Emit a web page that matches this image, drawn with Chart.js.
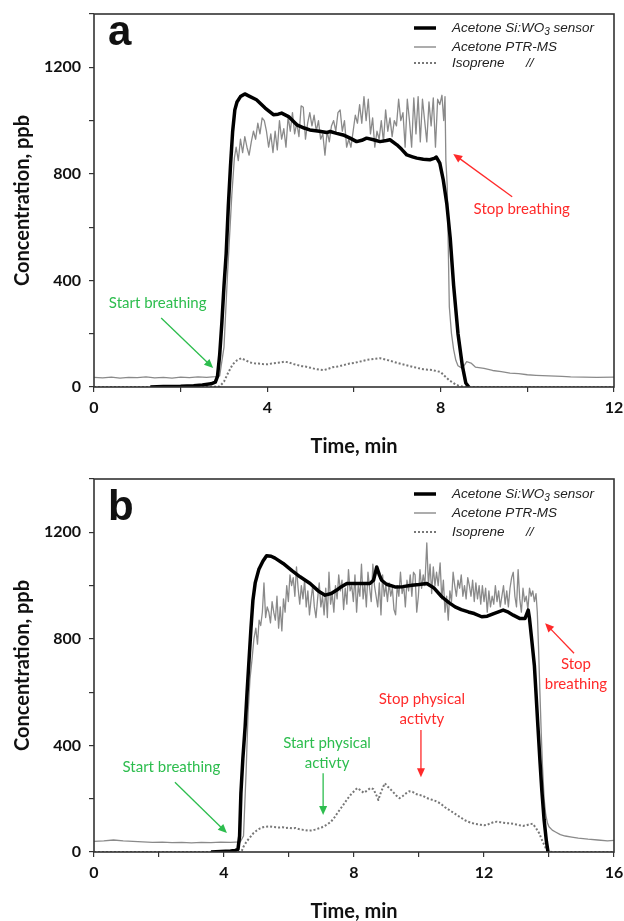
<!DOCTYPE html>
<html>
<head>
<meta charset="utf-8">
<script src="https://cdn.jsdelivr.net/npm/chart.js@4.4.1/dist/chart.umd.min.js"></script>
<style>
  html, body { margin: 0; padding: 0; background: #fff; overflow: hidden; }
  .panel { position: relative; width: 624px; }
  canvas { display: block; }
</style>
</head>
<body>
<div class="panel" style="height:460px"><canvas id="chartA" width="624" height="460"></canvas></div>
<div class="panel" style="height:461px"><canvas id="chartB" width="624" height="470"></canvas></div>
<script>
// ---- panel a: times (min) and concentrations (ppb) ----
const sensorA_t = [1.3, 1.6, 2.0, 2.3, 2.5, 2.7, 2.8, 2.85, 2.9, 2.95, 3.0, 3.05, 3.1, 3.15, 3.2, 3.25, 3.3, 3.38, 3.48,
  3.58, 3.75, 3.95, 4.14, 4.25, 4.33, 4.49, 4.68, 4.85, 4.98, 5.2, 5.37, 5.45, 5.6, 5.75, 5.91, 6.06, 6.18, 6.29, 6.45,
  6.6, 6.75, 6.83, 6.99, 7.1, 7.22, 7.35, 7.45, 7.6, 7.75, 7.85, 7.9, 7.98, 8.06, 8.14, 8.22, 8.3, 8.4, 8.5, 8.58, 8.65];
const sensorA_v = [0, 2, 3, 5, 8, 12, 18, 40, 120, 240, 380, 500, 680, 830, 960, 1040, 1070, 1090, 1100,
  1092, 1078, 1047, 1022, 1024, 1028, 1015, 984, 972, 965, 960, 955, 959, 952, 946, 934, 921, 926, 934, 928,
  921, 925, 928, 909, 892, 871, 864, 859, 855, 853, 858, 863, 840, 777, 690, 560, 380, 200, 80, 15, 0];

const ptrA_t = [0.0, 0.2, 0.4, 0.6, 0.8, 1.0, 1.2, 1.4, 1.6, 1.8, 2.0, 2.2, 2.4, 2.6, 2.8, 2.9, 3.0, 3.08, 3.14, 3.18,
  3.24, 3.28, 3.33, 3.38, 3.43, 3.48, 3.53, 3.58, 3.63, 3.68, 3.73, 3.78, 3.83, 3.88, 3.93, 3.98, 4.03, 4.08, 4.13, 4.18,
  4.23, 4.28, 4.33, 4.38, 4.43, 4.48, 4.53, 4.58, 4.63, 4.68, 4.73, 4.78, 4.83, 4.88, 4.93, 4.98, 5.03, 5.08, 5.13, 5.18,
  5.23, 5.28, 5.33, 5.38, 5.43, 5.48, 5.53, 5.58, 5.63, 5.68, 5.73, 5.78, 5.83, 5.88, 5.93, 5.98, 6.03, 6.08, 6.13, 6.18,
  6.23, 6.28, 6.33, 6.38, 6.43, 6.48, 6.53, 6.58, 6.63, 6.68, 6.73, 6.78, 6.83, 6.88, 6.93, 6.98, 7.03, 7.08, 7.13, 7.18,
  7.23, 7.28, 7.33, 7.38, 7.43, 7.48, 7.53, 7.58, 7.63, 7.68, 7.73, 7.78, 7.83, 7.88, 7.93, 7.98, 8.03, 8.07, 8.1, 8.12,
  8.15, 8.2, 8.25, 8.3, 8.35, 8.4, 8.5, 8.6, 8.7, 8.8, 9.0, 9.2, 9.4, 9.6, 9.8, 10.0, 10.2, 10.5, 10.8, 11.0,
  11.3, 11.6, 12.0];
const ptrA_v = [36, 34, 37, 33, 36, 35, 38, 34, 36, 33, 37, 35, 38, 36, 39, 42, 150, 420, 600, 720,
  860, 900, 850, 930, 880, 940, 900, 870, 920, 960, 930, 990, 950, 1010, 1000, 960, 900, 950, 880, 960,
  890, 1000, 930, 970, 900, 1015, 960, 1030, 950, 990, 940, 1055, 1050, 930, 990, 1030, 980, 1020, 960, 1000,
  930, 950, 870, 960, 920, 980, 1000, 960, 1030, 1040, 960, 1000, 900, 930, 900, 960, 1020, 990, 1060, 990,
  1090, 1000, 1080, 950, 1010, 900, 960, 930, 1000, 920, 1040, 960, 1010, 940, 1000, 980, 1080, 1000, 1030, 900,
  1080, 1000, 900, 1085, 950, 1090, 920, 1080, 1000, 920, 1070, 980, 1085, 900, 1080, 1060, 1095, 1000, 1090, 850,
  760, 300, 200, 140, 100, 80, 70, 95, 90, 75, 70, 62, 58, 52, 50, 46, 44, 42, 40, 38,
  37, 36, 37];

const isoA_t = [0, 1, 2, 2.5, 2.9, 3.0, 3.1, 3.2, 3.3, 3.4, 3.5, 3.6, 3.7, 3.8, 3.9, 4.0, 4.1, 4.2, 4.3, 4.4,
  4.5, 4.6, 4.7, 4.8, 4.9, 5.0, 5.1, 5.2, 5.3, 5.4, 5.5, 5.6, 5.7, 5.8, 5.9, 6.0, 6.1, 6.2, 6.3, 6.4,
  6.5, 6.6, 6.7, 6.8, 6.9, 7.0, 7.1, 7.2, 7.3, 7.4, 7.5, 7.6, 7.7, 7.8, 7.9, 8.0, 8.1, 8.2, 8.3, 8.4,
  8.5, 8.6, 9, 10, 11, 12];
const isoA_v = [0, 0, 0, 0, 2, 20, 55, 85, 100, 108, 100, 92, 89, 88, 86, 85, 88, 90, 92, 95,
  92, 86, 82, 78, 76, 72, 68, 65, 63, 68, 74, 76, 80, 84, 88, 90, 94, 98, 102, 104,
  106, 108, 104, 100, 95, 90, 86, 82, 78, 74, 70, 67, 65, 64, 60, 56, 40, 25, 14, 6,
  2, 0, 0, 0, 0, 0];

// ---- panel b ----
const sensorB_t = [3.6, 3.9, 4.2, 4.35, 4.43, 4.48, 4.52, 4.58, 4.65, 4.71, 4.77, 4.83, 4.89, 4.96, 5.07, 5.2, 5.31, 5.45,
  5.57, 5.82, 6.1, 6.34, 6.65, 6.9, 7.11, 7.3, 7.47, 7.6, 7.78, 8.13, 8.49, 8.6, 8.7, 8.78, 8.85, 9.0, 9.26, 9.5,
  9.78, 10.0, 10.24, 10.45, 10.7, 10.9, 11.11, 11.3, 11.52, 11.7, 11.93, 12.1, 12.3, 12.59, 12.75, 12.9, 13.11, 13.26,
  13.36, 13.4, 13.47, 13.55, 13.6, 13.66, 13.72, 13.78, 13.85, 13.92, 13.97];
const sensorB_v = [0, 2, 4, 6, 10, 60, 220, 350, 470, 600, 720, 840, 945, 1010, 1060, 1092, 1112, 1110,
  1103, 1083, 1055, 1033, 1008, 980, 964, 970, 983, 995, 1008, 1008, 1008, 1020, 1070, 1040, 1020, 1005, 995, 996,
  1001, 1004, 1008, 992, 958, 938, 920, 910, 901, 895, 883, 885, 895, 908, 900, 889, 876, 876,
  908, 876, 795, 700, 596, 470, 345, 230, 120, 40, 0];

const ptrB_t = [0, 0.3, 0.6, 0.9, 1.2, 1.5, 1.8, 2.1, 2.4, 2.7, 3.0, 3.3, 3.6, 3.9, 4.2, 4.5, 4.6, 4.68, 4.74, 4.8,
  4.86, 4.92, 4.98, 5.03, 5.08, 5.13, 5.18, 5.23, 5.28, 5.33, 5.38, 5.43, 5.48, 5.53, 5.58, 5.63, 5.68, 5.73, 5.78, 5.83,
  5.88, 5.93, 5.98, 6.03, 6.08, 6.13, 6.18, 6.23, 6.28, 6.33, 6.38, 6.43, 6.48, 6.53, 6.58, 6.63, 6.68, 6.73, 6.78, 6.83,
  6.88, 6.93, 6.98, 7.03, 7.08, 7.13, 7.18, 7.23, 7.28, 7.33, 7.38, 7.43, 7.48, 7.53, 7.58, 7.63, 7.68, 7.73, 7.78, 7.83,
  7.88, 7.93, 7.98, 8.03, 8.08, 8.13, 8.18, 8.23, 8.28, 8.33, 8.38, 8.43, 8.48, 8.53, 8.58, 8.63, 8.68, 8.73, 8.78, 8.83,
  8.88, 8.93, 8.98, 9.03, 9.08, 9.13, 9.18, 9.23, 9.28, 9.33, 9.38, 9.43, 9.48, 9.53, 9.58, 9.63, 9.68, 9.73, 9.78, 9.83,
  9.88, 9.93, 9.98, 10.03, 10.08, 10.13, 10.18, 10.24, 10.29, 10.34, 10.39, 10.44, 10.49, 10.54, 10.59, 10.65, 10.7, 10.75, 10.8, 10.85,
  10.9, 10.95, 11.0, 11.05, 11.1, 11.15, 11.2, 11.25, 11.3, 11.35, 11.4, 11.45, 11.5, 11.55, 11.6, 11.65, 11.7, 11.75, 11.8, 11.85,
  11.9, 11.95, 12.0, 12.05, 12.1, 12.15, 12.2, 12.25, 12.3, 12.35, 12.4, 12.45, 12.5, 12.55, 12.6, 12.65, 12.7, 12.75, 12.8, 12.85,
  12.9, 12.95, 13.0, 13.05, 13.1, 13.15, 13.2, 13.25, 13.3, 13.35, 13.4, 13.45, 13.5, 13.55, 13.6, 13.64, 13.68, 13.72, 13.76, 13.8,
  13.85, 13.9, 13.95, 14.0, 14.1, 14.2, 14.35, 14.5, 14.7, 14.9, 15.2, 15.5, 15.8, 16.0];
const ptrB_v = [40, 42, 45, 42, 40, 38, 36, 37, 35, 36, 34, 36, 35, 37, 36, 38, 60, 300, 520, 650,
  720, 800, 840, 780, 870, 850, 900, 1010, 880, 920, 900, 860, 940, 900, 870, 960, 840, 920, 830, 950,
  900, 1000, 940, 1040, 1000, 1030, 960, 1070, 990, 930, 1000, 950, 1020, 920, 980, 890, 950, 1000, 920, 880,
  950, 1010, 920, 960, 890, 990, 880, 1050, 930, 970, 900, 1000, 950, 1040, 980, 1020, 910, 990, 930, 1060,
  980, 1000, 940, 1040, 900, 1000, 960, 1080, 950, 1010, 920, 1050, 990, 940, 1080, 1000, 960, 920, 1010, 890,
  1040, 960, 1000, 940, 1010, 960, 990, 910, 890, 1000, 960, 1050, 970, 1000, 920, 1020, 980, 1040, 960, 1050,
  1040, 900, 960, 1060, 990, 1040, 1000, 1160, 1000, 1080, 970, 1070, 1000, 1050, 1000, 1085, 950, 1020, 900, 960,
  870, 980, 940, 1050, 1000, 960, 1020, 990, 1040, 960, 1000, 950, 1030, 1000, 960, 1020, 940, 1010, 950, 1000,
  930, 1000, 940, 990, 900, 980, 920, 960, 930, 1000, 940, 980, 920, 960, 1000, 930, 980, 920, 990, 1030,
  1050, 960, 920, 1060, 950, 900, 990, 940, 960, 910, 990, 960, 980, 940, 970, 900, 760, 600, 450, 320,
  200, 140, 110, 95, 82, 75, 65, 60, 56, 52, 48, 45, 42, 44];

const isoB_t = [0, 1, 2, 3, 4, 4.5, 4.55, 4.6, 4.7, 4.8, 4.9, 5.0, 5.1, 5.2, 5.3, 5.4, 5.5, 5.6, 5.7, 5.8,
  5.9, 6.0, 6.1, 6.2, 6.3, 6.4, 6.5, 6.6, 6.7, 6.8, 6.9, 7.0, 7.1, 7.2, 7.3, 7.4, 7.5, 7.6, 7.7, 7.8,
  7.9, 8.0, 8.1, 8.2, 8.3, 8.4, 8.5, 8.6, 8.7, 8.75, 8.8, 8.9, 8.95, 9.0, 9.1, 9.2, 9.3, 9.4, 9.5, 9.6,
  9.7, 9.8, 9.9, 10.0, 10.1, 10.2, 10.3, 10.4, 10.5, 10.6, 10.7, 10.8, 10.9, 11.0, 11.1, 11.2, 11.3, 11.4, 11.5, 11.6,
  11.7, 11.8, 11.9, 12.0, 12.1, 12.2, 12.3, 12.4, 12.5, 12.6, 12.7, 12.8, 12.9, 13.0, 13.1, 13.2, 13.3, 13.4, 13.5, 13.6,
  13.7, 13.8, 13.9, 14.0, 14.1, 15, 16];
const isoB_v = [0, 0, 0, 0, 0, 0, 5, 20, 40, 55, 70, 80, 88, 93, 95, 96, 94, 93, 92, 93,
  90, 91, 89, 90, 86, 84, 82, 80, 81, 84, 88, 92, 98, 105, 115, 130, 148, 165, 182, 200,
  215, 228, 240, 232, 222, 230, 240, 236, 210, 195, 215, 245, 258, 250, 238, 226, 212, 202, 210, 220,
  228, 226, 218, 214, 212, 205, 200, 196, 192, 186, 178, 168, 160, 152, 144, 136, 128, 120, 114, 110,
  106, 104, 102, 100, 102, 108, 112, 114, 112, 110, 108, 108, 106, 103, 100, 98, 100, 104, 106, 90,
  70, 40, 15, 2, 0, 0, 0];

const seriesNames = ['Acetone Si:WO', 'Acetone PTR-MS', 'Isoprene'];
const yTicks = [0, 400, 800, 1200];

const GREEN = '#2dbd4e';
const RED = '#ff2a2a';
const labelFont = '15px Lato, "Open Sans", sans-serif';

function pts(t, v) { return t.map((x, i) => ({ x: x, y: v[i] })); }

// frame, legend, panel letter, annotations
const decorPlugin = {
  id: 'decor',
  afterDraw(chart, args, o) {
    const { ctx, chartArea: ca, scales: { x, y } } = chart;
    ctx.save();
    ctx.strokeStyle = '#333';
    ctx.lineWidth = 1.6;
    ctx.strokeRect(ca.left, ca.top, ca.right - ca.left, ca.bottom - ca.top);

    // panel letter
    ctx.fillStyle = '#111';
    ctx.font = 'bold 42px "Liberation Sans", Arial, sans-serif';
    ctx.textBaseline = 'alphabetic';
    ctx.textAlign = 'left';
    ctx.fillText(o.letter, ca.left + 14, ca.top + o.letterBase);

    // legend
    const lx0 = 414, lx1 = 436, tx = 452;
    const rows = o.legendRows;
    ctx.font = 'italic 13.5px "Liberation Sans", Arial, sans-serif';
    ctx.textBaseline = 'middle';
    ctx.fillStyle = '#222';
    // sensor
    ctx.strokeStyle = '#000'; ctx.lineWidth = 3.5; ctx.setLineDash([]);
    ctx.beginPath(); ctx.moveTo(lx0, rows[0]); ctx.lineTo(lx1, rows[0]); ctx.stroke();
    ctx.fillText(seriesNames[0], tx, rows[0]);
    let w = ctx.measureText(seriesNames[0]).width;
    ctx.font = 'italic 10px "Liberation Sans", Arial, sans-serif';
    ctx.fillText('3', tx + w, rows[0] + 4);
    let w3 = ctx.measureText('3').width;
    ctx.font = 'italic 13.5px "Liberation Sans", Arial, sans-serif';
    ctx.fillText(' sensor', tx + w + w3, rows[0]);
    // ptr-ms
    ctx.strokeStyle = '#8a8a8a'; ctx.lineWidth = 1.4;
    ctx.beginPath(); ctx.moveTo(lx0, rows[1]); ctx.lineTo(lx1, rows[1]); ctx.stroke();
    ctx.fillText(seriesNames[1], tx, rows[1]);
    // isoprene
    ctx.strokeStyle = '#777'; ctx.lineWidth = 2; ctx.setLineDash([2, 2]);
    ctx.beginPath(); ctx.moveTo(lx0, rows[2]); ctx.lineTo(lx1, rows[2]); ctx.stroke();
    ctx.setLineDash([]);
    ctx.fillText(seriesNames[2], tx, rows[2]);
    ctx.fillText('//', 526, rows[2]);

    // annotations
    ctx.font = labelFont;
    ctx.textAlign = 'center';
    ctx.textBaseline = 'middle';
    o.notes.forEach(n => {
      ctx.fillStyle = n.color;
      ctx.strokeStyle = n.color;
      n.lines.forEach((s, i) => {
        ctx.fillText(s, x.getPixelForValue(n.tx), y.getPixelForValue(n.ty) + i * 20);
      });
      const x1 = x.getPixelForValue(n.a[0]), y1 = y.getPixelForValue(n.a[1]);
      const x2 = x.getPixelForValue(n.a[2]), y2 = y.getPixelForValue(n.a[3]);
      const ang = Math.atan2(y2 - y1, x2 - x1);
      const hl = 9, hw = 4;
      ctx.lineWidth = 1.3;
      ctx.beginPath();
      ctx.moveTo(x1, y1);
      ctx.lineTo(x2 - Math.cos(ang) * hl * 0.8, y2 - Math.sin(ang) * hl * 0.8);
      ctx.stroke();
      ctx.beginPath();
      ctx.moveTo(x2, y2);
      ctx.lineTo(x2 - Math.cos(ang) * hl - Math.sin(ang) * hw, y2 - Math.sin(ang) * hl + Math.cos(ang) * hw);
      ctx.lineTo(x2 - Math.cos(ang) * hl + Math.sin(ang) * hw, y2 - Math.sin(ang) * hl - Math.cos(ang) * hw);
      ctx.closePath();
      ctx.fill();
    });
    ctx.restore();
  }
};

function makeChart(id, cfg) {
  const tickFont = { family: 'Lato, "Open Sans", sans-serif', size: 16, weight: 'bold' };
  const titleFont = { family: 'Lato, "Open Sans", sans-serif', size: 20, weight: 'bold' };
  return new Chart(document.getElementById(id), {
    type: 'line',
    data: {
      datasets: [
        { label: seriesNames[0], data: pts(cfg.sensor[0], cfg.sensor[1]), borderColor: '#000', borderWidth: 3.5 },
        { label: seriesNames[1], data: pts(cfg.ptr[0], cfg.ptr[1]), borderColor: '#8a8a8a', borderWidth: 1.3 },
        { label: seriesNames[2], data: pts(cfg.iso[0], cfg.iso[1]), borderColor: '#777', borderWidth: 2, borderDash: [2, 2] }
      ]
    },
    options: {
      responsive: false,
      animation: false,
      parsing: false,
      elements: { point: { radius: 0 }, line: { tension: 0, borderJoinStyle: 'round' } },
      layout: { padding: { top: cfg.top, right: 10, left: 0, bottom: 0 } },
      plugins: {
        legend: { display: false },
        tooltip: { enabled: false },
        decor: { letter: cfg.letter, letterBase: cfg.letterBase, legendRows: cfg.legendRows, notes: cfg.notes }
      },
      scales: {
        x: {
          type: 'linear', min: 0, max: cfg.xmax,
          ticks: { stepSize: 2, color: '#111', font: tickFont, padding: 6, maxRotation: 0,
            callback: v => (v % 4 === 0 ? v : '') },
          grid: { drawOnChartArea: false, drawTicks: true, tickLength: 5, color: '#333', lineWidth: 1.2 },
          border: { display: false },
          title: { display: true, text: 'Time, min', color: '#111', font: titleFont, padding: { top: 0, bottom: cfg.xTitlePad } },
          afterFit: s => { s.height = cfg.xHeight; s.paddingLeft = 0; s.paddingRight = 0; }
        },
        y: {
          min: 0, max: 1400,
          ticks: { stepSize: 200, color: '#111', font: tickFont, padding: 8,
            callback: v => (yTicks.includes(v) ? v : '') },
          grid: { drawOnChartArea: false, drawTicks: true, tickLength: 5, color: '#333', lineWidth: 1.2 },
          border: { display: false },
          title: { display: true, text: 'Concentration, ppb', color: '#111', font: titleFont, padding: { top: 11, bottom: 0 } },
          afterFit: s => { s.width = 94; s.paddingTop = 0; s.paddingBottom = 0; }
        }
      }
    },
    plugins: [decorPlugin]
  });
}

makeChart('chartA', {
  sensor: [sensorA_t, sensorA_v], ptr: [ptrA_t, ptrA_v], iso: [isoA_t, isoA_v],
  xmax: 12, top: 14, xHeight: 73, xTitlePad: 1, letter: 'a', letterBase: 31,
  legendRows: [28, 47, 63],
  notes: [
    { color: GREEN, lines: ['Start breathing'], tx: 1.47, ty: 316, a: [1.55, 259, 2.75, 71] },
    { color: RED, lines: ['Stop breathing'], tx: 9.87, ty: 669, a: [9.65, 714, 8.29, 875] }
  ]
});

makeChart('chartB', {
  sensor: [sensorB_t, sensorB_v], ptr: [ptrB_t, ptrB_v], iso: [isoB_t, isoB_v],
  xmax: 16, top: 19, xHeight: 78, xTitlePad: 6, letter: 'b', letterBase: 41,
  legendRows: [34, 53, 72],
  notes: [
    { color: GREEN, lines: ['Start breathing'], tx: 2.38, ty: 319, a: [2.49, 262, 4.09, 71] },
    { color: GREEN, lines: ['Start physical', 'activty'], tx: 7.17, ty: 409, a: [7.05, 296, 7.05, 139] },
    { color: RED, lines: ['Stop physical', 'activty'], tx: 10.09, ty: 574, a: [10.06, 458, 10.06, 281] },
    { color: RED, lines: ['Stop', 'breathing'], tx: 14.83, ty: 705, a: [14.77, 746, 13.88, 859] }
  ]
});
</script>
</body>
</html>
